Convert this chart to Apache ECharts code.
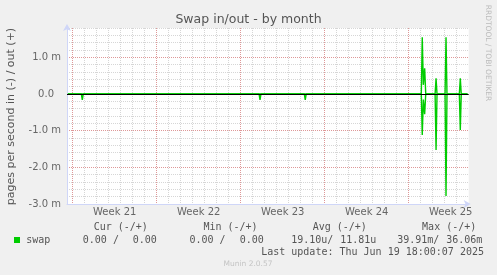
<!DOCTYPE html>
<html><head><meta charset="utf-8">
<script src="https://cdn.jsdelivr.net/npm/echarts@6/dist/echarts.min.js"></script>
<style>html,body{margin:0;padding:0;background:#f0f0f0}#c{width:497px;height:275px}</style>
</head><body><div id="c"></div>
<script>
// ---- data (x in days since start of Week 21, values in milli pages/s) ----
const weekLabels = ['Week 21', 'Week 22', 'Week 23', 'Week 24', 'Week 25'];
const yTickValues = [-3, -2, -1, 0, 1];
const yTickLabels = ['-3.0 m', '-2.0 m', '-1.0 m', '0.0', '1.0 m'];

const outDays = [-0.4, 29.05, 29.13, 29.22, 29.33, 29.42, 30.20, 30.28, 30.36, 31.03, 31.11, 31.19, 32.22, 32.30, 32.38, 32.9];
const outVals = [0, 0, 1.55, 0.25, 0.70, 0, 0, 0.43, 0, 0, 1.55, 0, 0, 0.43, 0, 0];

const inDays = [-0.4, 0.72, 0.80, 0.88, 15.53, 15.61, 15.69, 19.30, 19.38, 19.46, 29.05, 29.13, 29.22, 29.33, 29.42, 30.20, 30.28, 30.36, 31.03, 31.11, 31.19, 32.22, 32.30, 32.38, 32.9];
const inVals = [0, 0, 0.16, 0, 0, 0.16, 0, 0, 0.16, 0, 0, 1.12, 0.15, 0.55, 0, 0, 1.53, 0, 0, 2.78, 0, 0, 0.98, 0, 0];

const legendHeaders = ['Cur (-/+)', 'Min (-/+)', 'Avg (-/+)', 'Max (-/+)'];
const legendIn = ['0.00 /', '0.00 /', '19.10u/', '39.91m/'];
const legendOut = ['0.00', '0.00', '11.81u', '36.06m'];
const seriesName = 'swap';
const lastUpdate = 'Last update: Thu Jun 19 18:00:07 2025';

// ---- styles ----
const SANS = 'DejaVu Sans', MONO = 'DejaVu Sans Mono';
const GREEN = '#00cc00', AXIS = '#CFD6F8', FONTC = '#666666';
const GRID = 'rgba(140,140,140,0.36)', MGRID = 'rgba(235,60,60,0.40)';
const TOP = 28, BOTTOM = 71, RIGHT = 28.3;

const outData = outDays.map((d, i) => [d, outVals[i]]);
const inData = inDays.map((d, i) => [d, -inVals[i]]);

const chart = echarts.init(document.getElementById('c'), null, {renderer: 'canvas'});

const headerX = [93.7, 203.4, 312.7, 422.1];
const inX = [82.8, 189.5, 291.2, 397.2];
const outX = [132.8, 239.8, 340.2, 446.2];
const graphics = [
  {type: 'text', x: 248.5, y: 19.5, style: {text: 'Swap in/out - by month', font: '12.5px ' + SANS, fill: '#555', align: 'center', verticalAlign: 'middle'}},
  {type: 'text', x: 11, y: 116.5, rotation: Math.PI / 2, style: {text: 'pages per second in (-) / out (+)', font: '11px ' + SANS, fill: '#555', align: 'center', verticalAlign: 'middle'}},
  {type: 'text', x: 487.5, y: 53, rotation: -Math.PI / 2, style: {text: 'RRDTOOL / TOBI OETIKER', font: '7.5px ' + SANS, fill: '#bbbbbb', align: 'center', verticalAlign: 'middle'}},
  {type: 'rect', shape: {x: 14, y: 237, width: 6, height: 6}, style: {fill: GREEN}},
  {type: 'text', x: 26.2, y: 240, style: {text: seriesName, font: '10px ' + MONO, fill: '#555', align: 'left', verticalAlign: 'middle'}},
  {type: 'text', x: 261.2, y: 252, style: {text: lastUpdate, font: '10px ' + MONO, fill: '#555', align: 'left', verticalAlign: 'middle'}},
  {type: 'text', x: 248, y: 264.5, style: {text: 'Munin 2.0.57', font: '7.5px ' + SANS, fill: '#c4c4c4', align: 'center', verticalAlign: 'middle'}}
];
legendHeaders.forEach((h, i) => {
  graphics.push({type: 'text', x: headerX[i], y: 227.5, style: {text: h, font: '10px ' + MONO, fill: '#555', align: 'left', verticalAlign: 'middle'}});
  graphics.push({type: 'text', x: inX[i], y: 240, style: {text: legendIn[i], font: '10px ' + MONO, fill: '#555', align: 'left', verticalAlign: 'middle'}});
  graphics.push({type: 'text', x: outX[i], y: 240, style: {text: legendOut[i], font: '10px ' + MONO, fill: '#555', align: 'left', verticalAlign: 'middle'}});
});

chart.setOption({
  animation: false,
  backgroundColor: '#f0f0f0',
  grid: [
    {left: 67, right: RIGHT, top: TOP, bottom: BOTTOM, show: true, backgroundColor: '#ffffff', borderWidth: 0, containLabel: false, outerBoundsMode: 'none'},
    {left: 60.7, right: RIGHT, top: TOP, bottom: BOTTOM, containLabel: false, outerBoundsMode: 'none'},
    {left: -11.3, right: RIGHT, top: TOP, bottom: BOTTOM, containLabel: false, outerBoundsMode: 'none'}
  ],
  xAxis: [
    {type: 'value', gridIndex: 0, min: -0.475, max: 33, position: 'bottom',
      axisLine: {show: true, onZero: false, lineStyle: {color: AXIS, width: 1}, symbol: ['none', 'arrow'], symbolSize: [6, 7], symbolOffset: [0, 2]},
      axisTick: {show: false}, axisLabel: {show: false}, splitLine: {show: false}},
    {type: 'value', gridIndex: 1, min: -1, max: 33, interval: 1, position: 'bottom',
      axisLine: {show: false, onZero: false}, axisTick: {show: false}, axisLabel: {show: false},
      splitLine: {show: true, showMinLine: false, showMaxLine: false, lineStyle: {color: GRID, width: 1, type: [1, 1]}}},
    {type: 'value', gridIndex: 2, min: -7, max: 33, interval: 7, position: 'top',
      axisLine: {show: false, onZero: false}, axisTick: {show: false}, axisLabel: {show: false},
      splitLine: {show: true, showMinLine: false, showMaxLine: false, lineStyle: {color: MGRID, width: 1, type: [1, 1]}}},
    {type: 'value', gridIndex: 2, min: -7, max: 33, interval: 3.5, position: 'bottom', offset: 0,
      axisLine: {show: false, onZero: false}, axisTick: {show: false}, splitLine: {show: false},
      axisLabel: {show: true, margin: 3, fontSize: 10, fontFamily: SANS, color: FONTC, showMinLabel: false, showMaxLabel: false,
        formatter: v => {
          const k = (v - 3.5) / 7;
          const i = Math.round(k);
          if (Math.abs(k - i) < 1e-6 && i >= 0 && i < weekLabels.length) return weekLabels[i];
          return '';
        }}}
  ],
  yAxis: [
    {type: 'value', gridIndex: 0, min: -3, max: 1.8, interval: 0.2, position: 'right',
      axisLine: {show: false, onZero: false}, axisTick: {show: false}, axisLabel: {show: false},
      splitLine: {show: true, showMinLine: false, showMaxLine: true, lineStyle: {color: GRID, width: 1, type: [1, 1]}}},
    {type: 'value', gridIndex: 0, min: -3, max: 1.8, interval: 1, position: 'left',
      axisLine: {show: true, onZero: false, lineStyle: {color: AXIS, width: 1}, symbol: ['none', 'arrow'], symbolSize: [6, 7], symbolOffset: [0, 4]},
      axisTick: {show: false},
      axisLabel: {show: true, margin: 6, fontSize: 10, fontFamily: SANS, color: FONTC, showMaxLabel: false,
        formatter: v => {
          const i = yTickValues.findIndex(t => Math.abs(t - v) < 1e-6);
          return i < 0 ? '' : (yTickValues[i] === 0 ? '{z|' + yTickLabels[i] + '}' : yTickLabels[i]);
        },
        rich: {z: {fontSize: 10, fontFamily: SANS, color: FONTC, padding: [0, 7, 0, 0]}}},
      splitLine: {show: true, showMinLine: false, showMaxLine: false, lineStyle: {color: MGRID, width: 1, type: [1, 1]}}},
    {type: 'value', gridIndex: 1, show: false, min: -3, max: 1.8},
    {type: 'value', gridIndex: 2, show: false, min: -3, max: 1.8}
  ],
  series: [
    {name: seriesName + ' in', type: 'line', xAxisIndex: 0, yAxisIndex: 1, data: inData, showSymbol: false, symbol: 'none',
      lineStyle: {color: GREEN, width: 1.4}, itemStyle: {color: GREEN}, clip: true},
    {name: seriesName + ' out', type: 'line', xAxisIndex: 0, yAxisIndex: 1, data: outData, showSymbol: false, symbol: 'none',
      lineStyle: {color: GREEN, width: 1.4}, itemStyle: {color: GREEN}, clip: true,
      markLine: {silent: true, symbol: 'none', label: {show: false}, lineStyle: {color: '#000000', width: 1, type: 'solid'}, data: [{yAxis: 0}]}}
  ],
  graphic: graphics
});
</script></body></html>
